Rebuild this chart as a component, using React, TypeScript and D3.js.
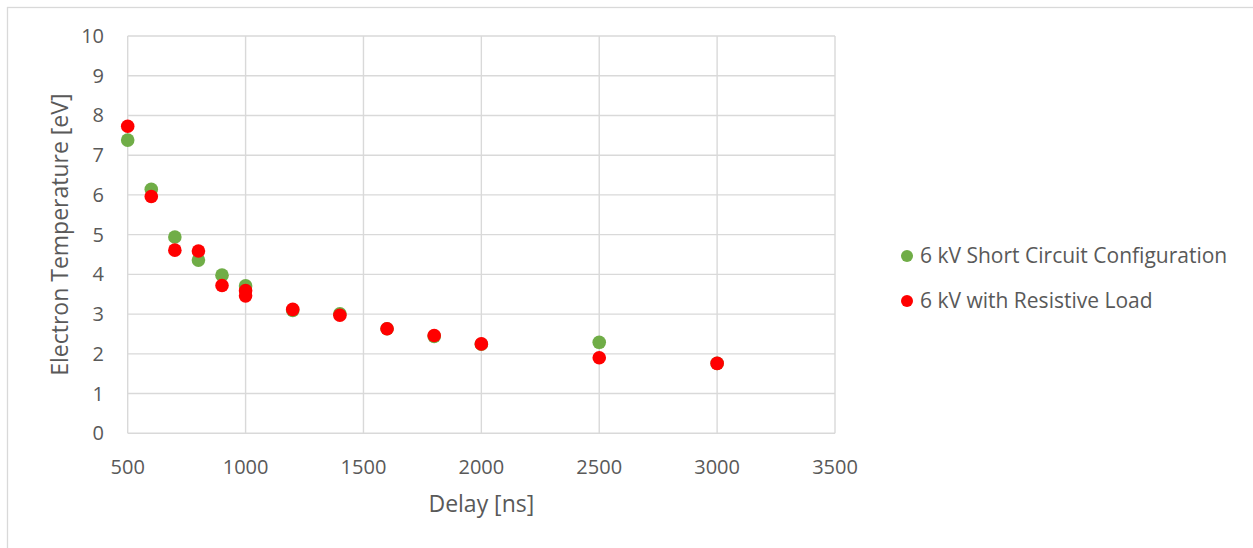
import React from "react";
import * as d3 from "d3";

const delaysShort = [500, 600, 700, 800, 900, 1000, 1200, 1400, 1600, 1800, 2000, 2500, 3000];
const tempShort = [7.38, 6.14, 4.94, 4.36, 3.98, 3.71, 3.09, 3.01, 2.63, 2.44, 2.24, 2.29, 1.76];

const delaysLoad = [500, 600, 700, 800, 900, 1000, 1000, 1200, 1400, 1600, 1800, 2000, 2500, 3000];
const tempLoad = [7.73, 5.96, 4.61, 4.59, 3.72, 3.59, 3.46, 3.12, 2.97, 2.63, 2.46, 2.25, 1.90, 1.76];

const xTicks = [500, 1000, 1500, 2000, 2500, 3000, 3500];
const yTicks = [0, 1, 2, 3, 4, 5, 6, 7, 8, 9, 10];

const seriesNames = ["6 kV Short Circuit Configuration", "6 kV with Resistive Load"];
const seriesColors = ["#70ad47", "#ff0000"];

const W = 1253;
const H = 548;
const FONT = "'Open Sans', sans-serif";
const TEXT = "#595959";
const GRID = "#d9d9d9";

export default function App() {
  const x = d3.scaleLinear().domain([500, 3500]).range([127.7, 835]);
  const y = d3.scaleLinear().domain([0, 10]).range([433.3, 36]);
  const series = [
    { name: seriesNames[0], color: seriesColors[0], xs: delaysShort, ys: tempShort },
    { name: seriesNames[1], color: seriesColors[1], xs: delaysLoad, ys: tempLoad },
  ];
  const r = 6.8;
  return (
    <svg
      width={W}
      height={H}
      style={{ position: "fixed", left: 0, top: 0, background: "#fff" }}
      fontFamily={FONT}
    >
      <rect x={0} y={0} width={W} height={H} fill="#fff" />
      <rect x={7.5} y={7.5} width={W - 7.5 + 5} height={H + 10} fill="none" stroke={GRID} strokeWidth={1.3} />
      {yTicks.map((t) => (
        <line key={"gy" + t} x1={x(500)} x2={x(3500)} y1={y(t)} y2={y(t)} stroke={GRID} strokeWidth={1.4} />
      ))}
      {xTicks.map((t) => (
        <line key={"gx" + t} x1={x(t)} x2={x(t)} y1={y(0)} y2={y(10)} stroke={GRID} strokeWidth={1.4} />
      ))}
      {yTicks.map((t) => (
        <text key={"ty" + t} x={104} y={y(t)} dy="0.35em" textAnchor="end" fontSize={20} fill={TEXT}>
          {t}
        </text>
      ))}
      {xTicks.map((t) => (
        <text key={"tx" + t} x={x(t)} y={474} textAnchor="middle" fontSize={20} fill={TEXT}>
          {t}
        </text>
      ))}
      <text x={(x(500) + x(3500)) / 2} y={511.5} textAnchor="middle" fontSize={23} fill={TEXT}>
        Delay [ns]
      </text>
      <text
        transform={`translate(68,${(y(0) + y(10)) / 2}) rotate(-90)`}
        textAnchor="middle"
        fontSize={23}
        fill={TEXT}
      >
        Electron Temperature [eV]
      </text>
      {series.map((s) => (
        <g key={s.name}>
          {s.xs.map((d, i) => (
            <circle key={i} cx={x(d)} cy={y(s.ys[i])} r={r} fill={s.color} />
          ))}
        </g>
      ))}
      {series.map((s, i) => (
        <g key={"lg" + i} transform={`translate(907,${256 + i * 45})`}>
          <circle cx={0} cy={0} r={6} fill={s.color} />
          <text x={13} y={0} dy="0.35em" fontSize={21} fill={TEXT}>
            {s.name}
          </text>
        </g>
      ))}
    </svg>
  );
}
